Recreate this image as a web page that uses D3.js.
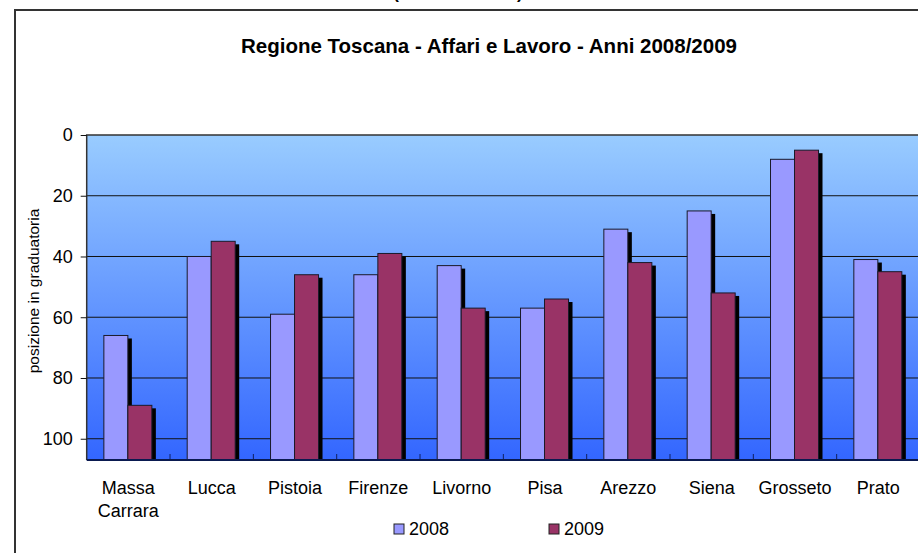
<!DOCTYPE html>
<meta charset="utf-8">
<style>
body{margin:0;background:white}
text{font-family:"Liberation Sans",Arial,sans-serif;fill:#000}
</style>
<svg width="918" height="553"></svg>
<script src="https://d3js.org/d3.v7.min.js"></script>
<script>

var province = ["Massa\nCarrara","Lucca","Pistoia","Firenze","Livorno","Pisa","Arezzo","Siena","Grosseto","Prato"];
var anni = ["2008","2009"];
var pos2008 = [66,40,59,46,43,57,31,25,8,41];
var pos2009 = [89,35,46,39,57,54,42,52,5,45];
var yTicks = [0,20,40,60,80,100];
var colori = ["#9999FF","#993366"];

var svg = d3.select("svg");

var plotL = 86.7, plotT = 135, plotB = 460, plotR = 920;

var rows = province.map(function(p, i) {
  return {name: p, vals: [pos2008[i], pos2009[i]]};
});

// outer frame (chart area border)
svg.append("rect")
    .attr("x", 15).attr("y", 10)
    .attr("width", 930).attr("height", 600)
    .attr("fill", "none").attr("stroke", "#333").attr("stroke-width", 2);

// clipped heading above the frame (only the bottom of its brackets shows)
svg.append("text")
    .attr("x", 458).attr("y", -1)
    .attr("text-anchor", "middle")
    .style("font-size", "17px").style("font-weight", "bold")
    .style("white-space", "pre")
    .text("(                         )");

svg.append("text")
    .attr("x", 489).attr("y", 53)
    .attr("text-anchor", "middle")
    .style("font-size", "20.5px").style("font-weight", "bold")
    .text("Regione Toscana - Affari e Lavoro - Anni 2008/2009");

var y = d3.scaleLinear().domain([0, 107]).range([plotT, plotB]);
var x0 = d3.scaleBand().domain(province).range([plotL, plotR]);
var bw = x0.bandwidth();
var x1 = d3.scaleBand().domain(anni).range([bw / 2 - 24.5, bw / 2 + 23.5]);

var grad = svg.append("defs").append("linearGradient")
    .attr("id", "sfondo").attr("x1", 0).attr("y1", 0).attr("x2", 0).attr("y2", 1);
grad.append("stop").attr("offset", "0%").attr("stop-color", "#99CCFF");
grad.append("stop").attr("offset", "100%").attr("stop-color", "#3366FF");

svg.append("rect")
    .attr("x", plotL).attr("y", plotT)
    .attr("width", plotR - plotL).attr("height", plotB - plotT)
    .attr("fill", "url(#sfondo)");

// gridlines
svg.append("g")
  .selectAll("line")
  .data(yTicks.slice(1))
  .join("line")
    .attr("x1", plotL).attr("x2", plotR)
    .attr("y1", function(d) { return y(d); })
    .attr("y2", function(d) { return y(d); })
    .attr("stroke", "#111").attr("stroke-width", 1);

// plot border top / left
svg.append("path")
    .attr("d", "M" + plotL + "," + plotB + "V" + plotT + "H" + plotR)
    .attr("fill", "none").attr("stroke", "#333").attr("stroke-width", 1.5);

// y axis
var yAxis = svg.append("g")
    .attr("transform", "translate(" + plotL + ",0)")
    .call(d3.axisLeft(y).tickValues(yTicks).tickSize(6).tickPadding(8));
yAxis.select(".domain").remove();
yAxis.selectAll("line").attr("stroke", "#111");
yAxis.selectAll("text")
    .style("font-size", "18px")
    .style("font-family", "'Liberation Sans',Arial,sans-serif")
    .attr("fill", "#000");

svg.append("text")
    .attr("transform", "translate(39,291) rotate(-90)")
    .attr("text-anchor", "middle")
    .style("font-size", "15.5px")
    .text("posizione in graduatoria");

// bars
var gruppi = svg.append("g")
  .selectAll("g")
  .data(rows)
  .join("g")
    .attr("transform", function(d) { return "translate(" + x0(d.name) + ",0)"; });

var barre = gruppi.selectAll("g")
  .data(function(d) { return d.vals.map(function(v, i) { return {anno: anni[i], v: v, i: i}; }); })
  .join("g");

barre.append("rect")
    .attr("x", function(d) { return x1(d.anno) + 4; })
    .attr("y", function(d) { return y(d.v) + 3; })
    .attr("width", x1.bandwidth())
    .attr("height", function(d) { return plotB - y(d.v) - 3; })
    .attr("fill", "#000");

barre.append("rect")
    .attr("x", function(d) { return x1(d.anno); })
    .attr("y", function(d) { return y(d.v); })
    .attr("width", x1.bandwidth())
    .attr("height", function(d) { return plotB - y(d.v); })
    .attr("fill", function(d) { return colori[d.i]; })
    .attr("stroke", "#1a1a2a").attr("stroke-width", 1);

// bottom axis
svg.append("g")
  .selectAll("line")
  .data(province.slice(1))
  .join("line")
    .attr("x1", function(d) { return x0(d); })
    .attr("x2", function(d) { return x0(d); })
    .attr("y1", plotB - 6).attr("y2", plotB)
    .attr("stroke", "#102060").attr("stroke-width", 1);

svg.append("line")
    .attr("x1", plotL).attr("x2", plotR)
    .attr("y1", plotB).attr("y2", plotB)
    .attr("stroke", "#0a1a50").attr("stroke-width", 2);

svg.append("g")
  .selectAll("text")
  .data(province)
  .join("text")
    .attr("x", function(d) { return x0(d) + bw / 2; })
    .attr("y", 494)
    .attr("text-anchor", "middle")
    .style("font-size", "18px")
  .selectAll("tspan")
  .data(function(d) { return d.split("\n"); })
  .join("tspan")
    .attr("x", function() { return d3.select(this.parentNode).attr("x"); })
    .attr("dy", function(d, i) { return i ? 23 : 0; })
    .text(function(d) { return d; });

// legend
var legX = [394, 549];
var leg = svg.append("g")
  .selectAll("g")
  .data(anni)
  .join("g")
    .attr("transform", function(d, i) { return "translate(" + legX[i] + ",524)"; });
leg.append("rect")
    .attr("width", 10).attr("height", 10)
    .attr("fill", function(d, i) { return colori[i]; })
    .attr("stroke", "#222");
leg.append("text")
    .attr("x", 15).attr("y", 11)
    .style("font-size", "18px")
    .text(function(d) { return d; });

</script>
